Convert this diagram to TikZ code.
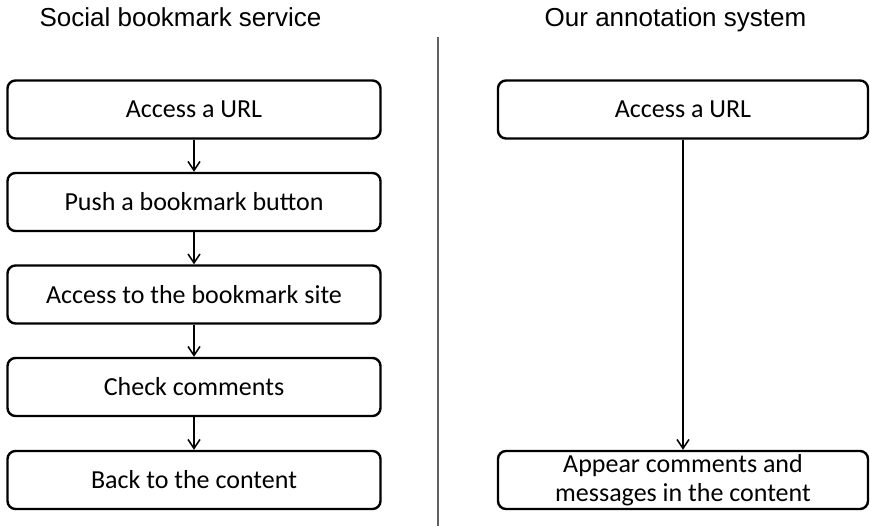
\documentclass[tikz,border=0pt]{standalone}
\usepackage{fontspec}
\setmainfont{Carlito}
\newfontfamily\headfont{Liberation Sans}
\usetikzlibrary{arrows.meta}
\tikzset{
  stepbox/.style={draw, line width=2.4pt, rounded corners=8pt, minimum height=58pt,
    inner sep=0pt, align=center, font=\fontsize{26}{29}\selectfont},
  heading/.style={anchor=base, inner sep=0pt, font=\headfont\fontsize{26}{30}\selectfont},
  flow/.style={line width=1.5pt, -{Straight Barb[length=9pt,width=12pt,line width=1.5pt]}},
  divider/.style={line width=1.2pt, draw=black!62}
}
\begin{document}
\begin{tikzpicture}[x=1pt,y=-1pt]
\useasboundingbox (0,0) rectangle (870,526);

% column headings
\node[heading] (hleft) at (180.5,26.5) {Social bookmark service};
\node[heading] (hright) at (675.5,26.5) {Our annotation system};

% separator between the two columns
\coordinate (dtop) at (438,37);
\coordinate (dbot) at (438,526);
\draw[divider] (dtop) -- (dbot);

% social bookmark workflow
\node[stepbox, minimum width=373pt] (a1) at (194,109.5) {Access a URL};
\node[stepbox, minimum width=373pt] (a2) at (194,202) {Push a bookmark button};
\node[stepbox, minimum width=373pt] (a3) at (194,294.5) {Access to the bookmark site};
\node[stepbox, minimum width=373pt] (a4) at (194,387) {Check comments};
\node[stepbox, minimum width=373pt] (a5) at (194,480) {Back to the content};

\draw[flow] (a1) -- (a2);
\draw[flow] (a2) -- (a3);
\draw[flow] (a3) -- (a4);
\draw[flow] (a4) -- (a5);

% annotation system workflow
\node[stepbox, minimum width=370pt] (b1) at (683,109.5) {Access a URL};
\node[stepbox, minimum width=370pt] (b2) at (683,480) {Appear comments and\\messages in the content};

\draw[flow] (b1) -- (b2);
\end{tikzpicture}
\end{document}
